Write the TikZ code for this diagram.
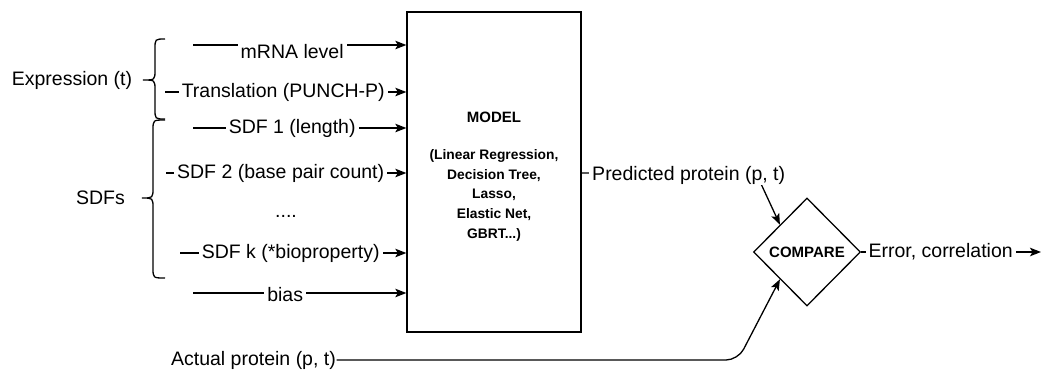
\documentclass[tikz,border=0pt]{standalone}
\usepackage{fontspec}
\setmainfont{Liberation Sans}
\usetikzlibrary{arrows.meta,shapes.geometric}
\begin{document}
\begin{tikzpicture}[x=1pt,y=-1pt,
  line width=1.3pt,
  arr/.style={-{Stealth[length=11pt,width=8.5pt,inset=2.5pt]}},
  lbl/.style={fill=white,inner xsep=3pt,inner ysep=1pt,font=\fontsize{19.5}{23}\selectfont},
  txt/.style={inner sep=0pt,font=\fontsize{19.5}{23}\selectfont},
  boldtxt/.style={font=\fontsize{15}{19.7}\selectfont\bfseries},
  listtxt/.style={font=\fontsize{13.8}{19.75}\selectfont\bfseries},
  bracepath/.style={line width=1.3pt}]
\useasboundingbox (0,0) rectangle (1042,370);

% model box
\node[draw, minimum width=174pt, minimum height=320pt, inner sep=0pt, listtxt, align=center] (model) at (494,172)
  {\rule{0pt}{19.7pt}{\fontsize{15}{19.7}\selectfont MODEL}\\[17.3pt](Linear Regression,\\Decision Tree,\\Lasso,\\Elastic Net,\\GBRT...)};

% inputs
\coordinate (i1) at (193,45);
\coordinate (i2) at (165,92);
\coordinate (i3) at (193,128);
\coordinate (i4) at (166,173);
\coordinate (i5) at (180,253);
\coordinate (i6) at (193,293);
\draw[arr] (i1) -- (i1 -| model.west) node[lbl,pos=.465,yshift=-7pt] (l1) {mRNA level};
\draw[arr] (i2) -- (i2 -| model.west) node[lbl,pos=.49] (l2) {Translation (PUNCH-P)};
\draw[arr] (i3) -- (i3 -| model.west) node[lbl,pos=.465] (l3) {SDF 1 (length)};
\draw[arr] (i4) -- (i4 -| model.west) node[lbl,pos=.477] (l4) {SDF 2 (base pair count)};
\draw[arr] (i5) -- (i5 -| model.west) node[lbl,pos=.489] (l5) {SDF k (*bioproperty)};
\draw[arr] (i6) -- (i6 -| model.west) node[lbl,pos=.432,yshift=-2pt] (l6) {bias};
\node[txt] (dots) at (286,216) {....};

% braces
\draw[bracepath] (165,39) .. controls (155,39) .. (155,49) -- (155,70)
  .. controls (155,80) .. (143,80) .. controls (155,80) .. (155,90) -- (155,109)
  .. controls (155,119) .. (165,119);
\draw[bracepath] (165,120) .. controls (153,120) .. (153,130) -- (153,188)
  .. controls (153,198) .. (142,198) .. controls (153,198) .. (153,208) -- (153,268)
  .. controls (153,278) .. (165,278);
\node[txt] (expr) at (72,80) {Expression (t)};
\node[txt] (sdfs) at (100.5,198) {SDFs};

% compare
\node[draw, diamond, minimum width=107pt, minimum height=108pt, inner sep=0pt, boldtxt] (cmp) at (807,252) {COMPARE};

\coordinate (pbend) at (756,173);
\draw[arr] (model.east |- pbend) -- (pbend) node[lbl,pos=.614,yshift=-2pt] (pl) {Predicted protein (p, t)} -- (cmp.north west);

\coordinate (eend) at (1041,252);
\draw[arr] (cmp.east) -- (eend) node[lbl,pos=.442] (el) {Error, correlation};

\node[txt] (act) at (253.5,360) {Actual protein (p, t)};
\draw[arr, rounded corners=12pt] (act.east) -- (738,360) -- (cmp.south west);
\end{tikzpicture}
\end{document}
